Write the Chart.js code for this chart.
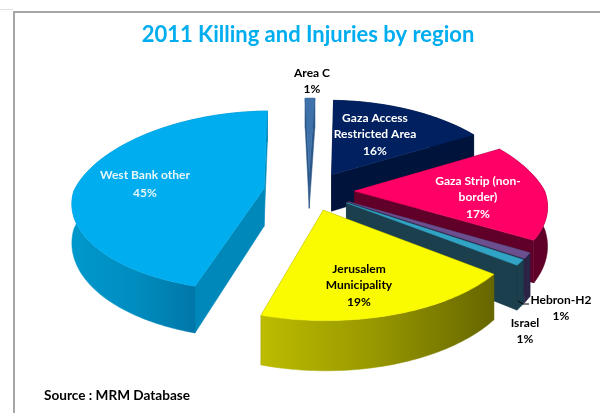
<!DOCTYPE html>
<html>
<head>
<meta charset="utf-8">
<style>
  html, body { margin: 0; padding: 0; background: #fff; overflow: hidden; }
  #frame { position: absolute; left: 13px; top: 11px; right: -5px; bottom: -5px; border-left: 2px solid #a6a6a6; border-top: 2px solid #a6a6a6; }
  #edge { position: absolute; left: 0; top: 9px; width: 13px; height: 1px; background: #e2e2e2; }
  canvas { position: absolute; left: 0; top: 0; }
</style>
<script src="https://cdn.jsdelivr.net/npm/chart.js@4/dist/chart.umd.min.js"></script>
</head>
<body>
<div id="edge"></div>
<div id="frame"></div>
<canvas id="pie" width="600" height="413"></canvas>
<script>
const categories = ['Area C', 'Gaza Access Restricted Area', 'Gaza Strip (non-border)', 'Hebron-H2', 'Israel', 'Jerusalem Municipality', 'West Bank other'];
const sharePercent = [1, 16, 17, 1, 1, 19, 45];
const topColors = ['#3f72ab', '#002060', '#ff0066', '#6b4f8f', '#31a3c4', '#fafa00', '#00aeef'];
const sideColors = ['#2a5688', '#00133b', '#600029', '#2c2444', '#1b3f4d', '#666600', '#0088ba'];
const outerGradients = [null, null, null, null, null, ['#bcbc00', '#969600', '#666600'], ['#0098cc', '#008dc0', '#0077a8']];

// text lines + where they sit on the page
const labelLines = [
  ['Area C', '1%'],
  ['Gaza Access', 'Restricted Area', '16%'],
  ['Gaza Strip (non-', 'border)', '17%'],
  ['Hebron-H2', '1%'],
  ['Israel', '1%'],
  ['Jerusalem', 'Municipality', '19%'],
  ['West Bank other', '45%']
];
const labelPlace = [
  { x: 312, y: 73, step: 16, color: '#000' },
  { x: 375, y: 118, step: 16.5, color: '#fff' },
  { x: 478, y: 181, step: 16.5, color: '#fff' },
  { x: 561, y: 300, step: 16, color: '#000' },
  { x: 525, y: 323, step: 16, color: '#000' },
  { x: 359, y: 269, step: 16.5, color: '#000' },
  { x: 145, y: 175, step: 18, color: '#e8f6fc' }
];

// fake 3D: flat pie angles from Chart.js pushed through a small perspective
const view = { cx: 309, cy: 191, rx: 190, ry: 89, k: 0.14, kxFar: 0.2, depth: 38, explodeX: 0.24, explodeY: 0.22 };

function project(theta, r, z, mid) {
  const px = view.explodeX * Math.sin(mid) + r * Math.sin(theta);
  const py = -view.explodeY * Math.cos(mid) - r * Math.cos(theta);
  const s = 1 / (1 - view.k * py);
  const sx = py < 0 ? 1 / (1 - view.kxFar * py) : s;
  return {
    x: view.cx + view.rx * px * sx,
    y: view.cy + (view.ry * py + view.depth * z * Math.sqrt(s)) * s
  };
}

function arcPoints(a0, a1, z, mid) {
  const n = Math.max(2, Math.ceil((a1 - a0) / 0.02));
  const pts = [];
  for (let i = 0; i <= n; i++) pts.push(project(a0 + (a1 - a0) * i / n, 1, z, mid));
  return pts;
}

function fillPoly(ctx, pts, fill) {
  ctx.beginPath();
  pts.forEach((p, i) => i ? ctx.lineTo(p.x, p.y) : ctx.moveTo(p.x, p.y));
  ctx.closePath();
  ctx.fillStyle = fill;
  ctx.strokeStyle = fill;
  ctx.lineWidth = 0.5;
  ctx.fill();
  ctx.stroke();
}

const pie3d = {
  id: 'pie3d',
  beforeDatasetsDraw(chart) {
    const ctx = chart.ctx;
    const arcs = chart.getDatasetMeta(0).data;
    // far slices first, near ones over them
    const order = [0, 6, 1, 2, 3, 4, 5];
    order.forEach(i => {
      const arc = arcs[i];
      const a0 = arc.startAngle + Math.PI / 2;
      const a1 = arc.endAngle + Math.PI / 2;
      const mid = (a0 + a1) / 2;
      const apexTop = project(0, 0, 0, mid);
      const apexBot = project(0, 0, 1, mid);
      const top = arcPoints(a0, a1, 0, mid);
      const bot = arcPoints(a0, a1, 1, mid);

      // two cut faces
      fillPoly(ctx, [apexTop, top[0], bot[0], apexBot], sideColors[i]);
      fillPoly(ctx, [apexTop, top[top.length - 1], bot[bot.length - 1], apexBot], sideColors[i]);

      // outer rim
      let rimFill = sideColors[i];
      if (outerGradients[i]) {
        const xs = bot.map(p => p.y > apexBot.y - 60 ? p.x : null).filter(v => v !== null);
        const g = ctx.createLinearGradient(Math.min(...xs), 0, i === 6 ? 195 : Math.max(...xs), 0);
        outerGradients[i].forEach((c, j, all) => g.addColorStop(j / (all.length - 1), c));
        rimFill = g;
      }
      fillPoly(ctx, top.concat(bot.slice().reverse()), rimFill);

      // top face
      fillPoly(ctx, [apexTop].concat(top), topColors[i]);
    });

    // leader line for Hebron-H2
    ctx.beginPath();
    ctx.moveTo(518, 301);
    ctx.lineTo(523, 304);
    ctx.lineTo(529, 304);
    ctx.strokeStyle = '#000';
    ctx.lineWidth = 1;
    ctx.stroke();

    return false;
  },
  afterDraw(chart) {
    const ctx = chart.ctx;
    ctx.save();
    ctx.textAlign = 'center';
    ctx.textBaseline = 'middle';
    ctx.font = 'bold 12px Lato';
    labelLines.forEach((lines, i) => {
      const place = labelPlace[i];
      ctx.fillStyle = place.color;
      lines.forEach((t, j) => ctx.fillText(t, place.x, place.y + j * place.step));
    });
    ctx.textAlign = 'left';
    ctx.fillStyle = '#000';
    ctx.font = 'bold 13.6px Lato';
    ctx.fillText('Source : MRM Database', 44, 396);
    ctx.restore();
  }
};

new Chart(document.getElementById('pie'), {
  type: 'pie',
  data: {
    labels: categories,
    datasets: [{ data: sharePercent, backgroundColor: topColors, borderWidth: 0 }]
  },
  options: {
    responsive: false,
    animation: false,
    rotation: -1.5,
    layout: { padding: { left: 16 } },
    plugins: {
      legend: { display: false },
      tooltip: { enabled: false },
      title: {
        display: true,
        text: '2011 Killing and Injuries by region',
        color: '#00aeef',
        font: { family: 'Lato', size: 22, weight: 'bold' },
        padding: { top: 22, bottom: 10 }
      }
    }
  },
  plugins: [pie3d]
});
</script>
</body>
</html>
